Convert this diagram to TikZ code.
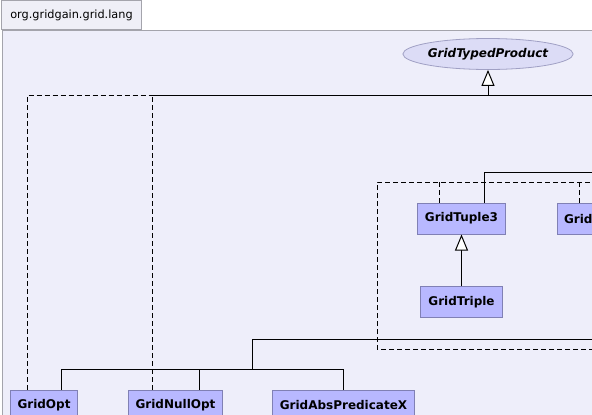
\documentclass[tikz,border=0pt]{standalone}
\usepackage{fontspec}
\setmainfont{DejaVu Sans}
\usetikzlibrary{positioning,arrows.meta,shapes,calc}
\definecolor{framefill}{HTML}{EEEEFA}
\definecolor{tabfill}{HTML}{EFEFF7}
\definecolor{frameline}{HTML}{A4A4AC}
\definecolor{clsfill}{HTML}{B8B8FF}
\definecolor{clsline}{HTML}{8080B4}
\definecolor{iffill}{HTML}{DCDCF6}
\definecolor{ifline}{HTML}{A0A0C4}

\begin{document}
\begin{tikzpicture}[x=1pt, y=-1pt,
    cls/.style={rectangle, draw=clsline, fill=clsfill, line width=1pt, minimum height=31pt,
                inner xsep=7.5pt, font=\bfseries\fontsize{12}{14}\selectfont},
    iface/.style={ellipse, draw=ifline, fill=iffill, line width=0.8pt, minimum width=153pt,
                  minimum height=31pt, inner sep=0pt, font=\bfseries\itshape\fontsize{12}{14}\selectfont},
    gen/.style={-{Triangle[length=16pt, width=13pt, fill=white]}, line width=1pt},
    assoc/.style={line width=1pt},
    realize/.style={line width=1pt, dash pattern=on 5pt off 3pt}]
    \useasboundingbox (0,0) rectangle (592,415);
    \clip (0,0) rectangle (592,415);
    % package frame and tab
    \fill[white] (0,0) rectangle (592,415);
    \filldraw[fill=framefill, draw=frameline, line width=1pt] (2,30) rectangle (620,440);
    \node[draw=frameline, fill=tabfill, line width=1pt, minimum width=140pt, minimum height=29pt,
          anchor=south west, font=\fontsize{11.3}{13}\selectfont] (tab) at (1,30) {org.gridgain.grid.lang};

    % interface and classes
    \node[iface] (product) at (488,54) {GridTypedProduct};
    \node[cls] (tuple3) at (461.5,218.5) {GridTuple3};
    \node[cls] (triple) at (461.5,302) {GridTriple};
    \node[cls, anchor=north west, inner xsep=6.5pt, text width=50pt, align=left] (tupleR) at (557,203) {Grid};
    \node[cls] (opt) at (44,405.5) {GridOpt};
    \node[cls] (nullopt) at (175.5,405.5) {GridNullOpt};
    \node[cls] (abspred) at (343.5,405.5) {GridAbsPredicateX};

    % free ends
    \coordinate (hub) at (488,95);
    \coordinate (split) at (152,95);
    \coordinate (hubE) at (594,95);
    \coordinate (tupE) at (594,172);
    \coordinate (loopNW) at (377,182);
    \coordinate (loopE) at (594,182);
    \coordinate (loopB) at (594,349);
    \coordinate (bus) at (252,369);
    \coordinate (busE) at (594,339);

    % generalization
    \draw[gen] (hub) -- (product);
    \draw[assoc] (split) -- (hub);
    \draw[assoc] (hub) -- (hubE);
    \draw[gen] (triple) -- (tuple3);
    \draw[assoc] ([xshift=22.5pt]tuple3.north) |- (tupE);

    % realization
    \draw[realize] ([xshift=-17pt]opt.north) |- (split);
    \draw[realize] ([xshift=-23.5pt]nullopt.north) -- (split);
    \draw[realize] (loopB) -| (loopNW) -- (loopE);
    \draw[realize] ([xshift=-22.5pt]tuple3.north) -- ([xshift=-22.5pt]tuple3.north |- loopNW);
    \draw[realize] ([xshift=22pt]tupleR.north west) -- ([xshift=22pt]tupleR.north west |- loopE);

    % lower tree
    \draw[assoc] ([xshift=17pt]opt.north) |- (bus);
    \draw[assoc] ([xshift=23.5pt]nullopt.north) |- (bus);
    \draw[assoc] (abspred.north) |- (bus);
    \draw[assoc] (bus) |- (busE);
\end{tikzpicture}
\end{document}
